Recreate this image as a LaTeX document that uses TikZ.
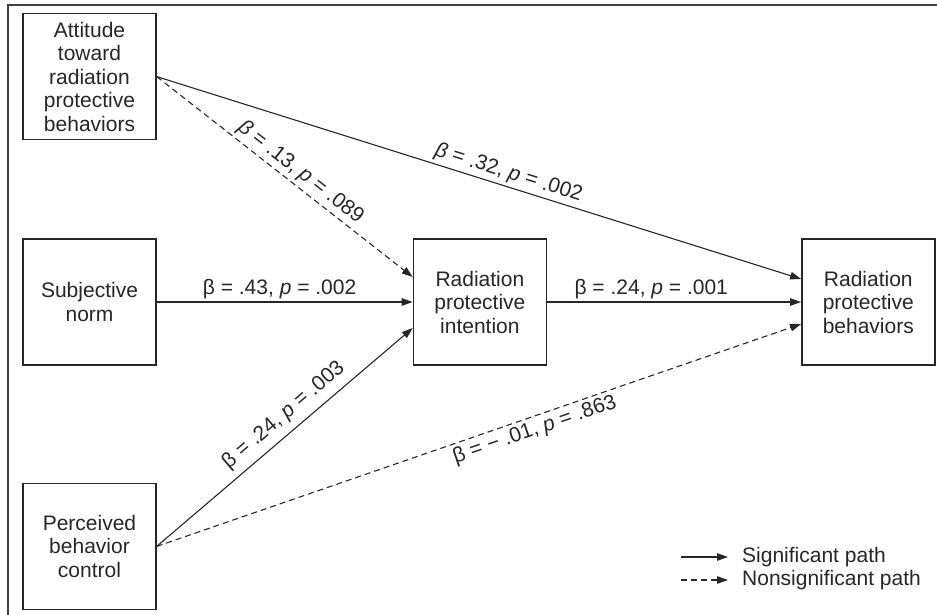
\documentclass[tikz,border=0pt]{standalone}
\usepackage{fontspec}
\setmainfont{Liberation Sans}
\usetikzlibrary{positioning, calc, arrows.meta}

\begin{document}
\begin{tikzpicture}[x=1pt, y=-1pt, >={Triangle[length=11pt, width=7.5pt]}, black!85,
    txt/.style={font=\fontsize{21}{23.5}\selectfont},
    box/.style={draw, txt, line width=1.4pt, minimum width=133pt, minimum height=126pt, align=center, inner sep=2pt},
    sigline/.style={->, line width=1.1pt},
    nsline/.style={sigline, dash pattern=on 6pt off 4pt},
    lab/.style={txt, sloped, inner sep=3pt}]
    \useasboundingbox (0,0) rectangle (937,615);
    % Frame
    \draw[line width=1.5pt, black!75] (8,615) -- (8,5) -- (937,5);

    % Nodes
    \node[box] (sn) at (89.5,302) {Subjective\\norm};
    \node[box, above=98pt of sn] (att) {Attitude\\toward\\radiation\\protective\\behaviors};
    \node[box, below=117pt of sn] (pbc) {Perceived\\behavior\\control};
    \node[box, right=256pt of sn] (int) {Radiation\\protective\\intention};
    \node[box, right=254pt of int] (beh) {Radiation\\protective\\behaviors};

    \coordinate (int-top) at ($(int.west)+(0,-25)$);
    \coordinate (int-bot) at ($(int.west)+(0,26)$);
    \coordinate (beh-top) at ($(beh.west)+(0,-23)$);
    \coordinate (beh-bot) at ($(beh.west)+(0,22)$);

    % Arrows
    \draw[sigline] (att.east) -- node[lab, above, pos=0.54] {\textit{β} = .32, \textit{p} = .002} (beh-top);
    \draw[nsline] (att.east) -- node[lab, above, pos=0.53] {\textit{β} = .13, \textit{p} = .089} (int-top);
    \draw[sigline] (sn) -- node[lab, above, pos=0.48] {β = .43, \textit{p} = .002} (int);
    \draw[sigline] (int) -- node[lab, above, pos=0.41] {β = .24, \textit{p} = .001} (beh);
    \draw[sigline] (pbc.east) -- node[lab, above=4pt, pos=0.54] {β = .24, \textit{p} = .003} (int-bot);
    \draw[nsline] (pbc.east) -- node[lab, below, pos=0.58] {β = − .01, \textit{p} = .863} (beh-bot);

    % Legend
    \node[txt, anchor=west, inner xsep=14pt, inner ysep=2pt] (sig) at (728,557) {Significant path};
    \node[txt, anchor=west, inner xsep=14pt, inner ysep=2pt] (nsig) at (728,580) {Nonsignificant path};
    \coordinate (sig-start) at (681,557);
    \coordinate (nsig-start) at (681,580);
    \draw[sigline] (sig-start) -- (sig.west);
    \draw[nsline] (nsig-start) -- (nsig.west);
\end{tikzpicture}
\end{document}
